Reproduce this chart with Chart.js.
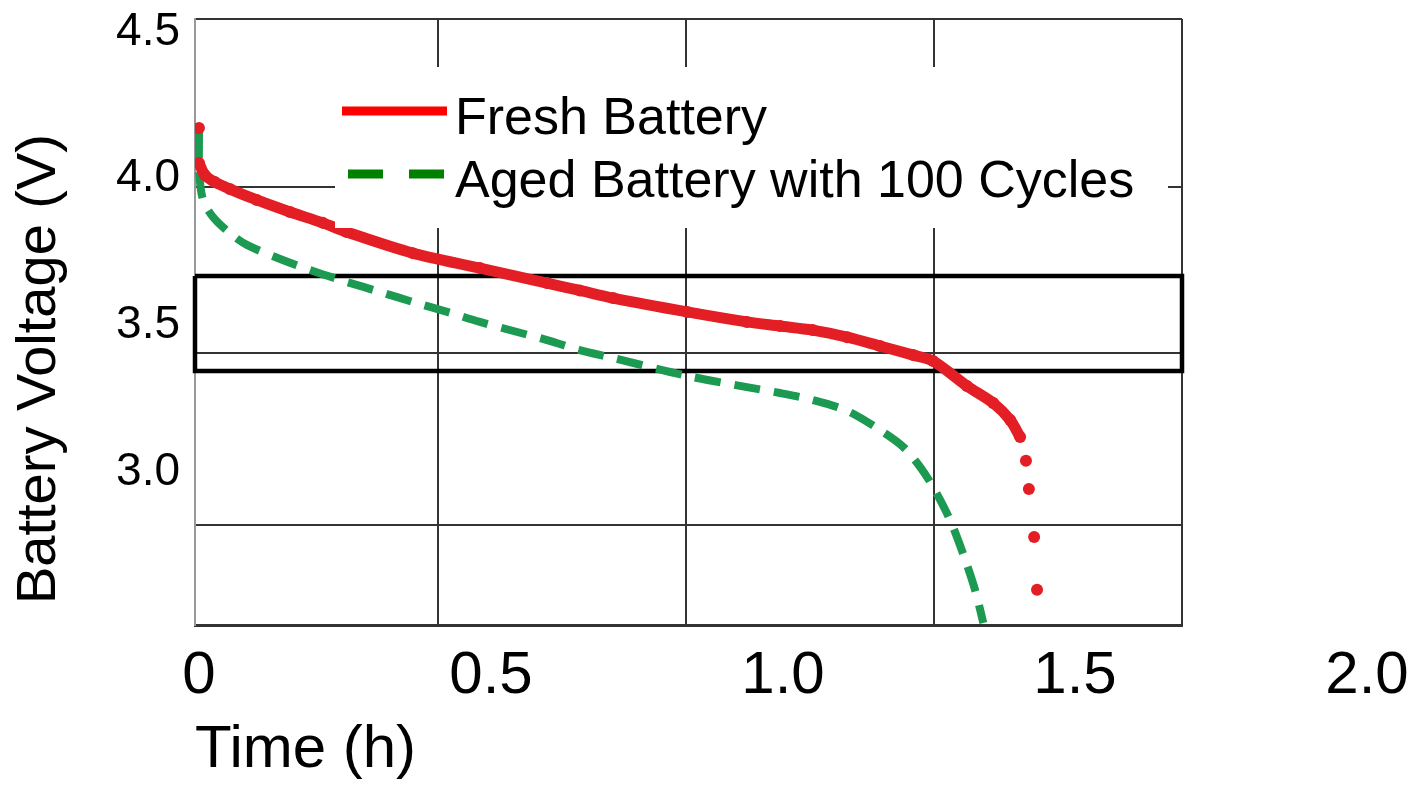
<!DOCTYPE html>
<html>
<head>
<meta charset="utf-8">
<script src="https://cdn.jsdelivr.net/npm/chart.js@4.4.1/dist/chart.umd.min.js"></script>
<style>
  html, body { margin: 0; padding: 0; background: #ffffff; }
</style>
</head>
<body>
<canvas id="voltageChart" width="1418" height="786"></canvas>
<script>
// Fresh battery (null = break between the separate dots)
const freshTime = [0, 0, 0, 0.010, 0.027, 0.053, 0.099, 0.156, 0.212, 0.253, 0.366, 0.481, 0.596, 0.652, 0.709,
                   0.836, 0.938, 0.995, 1.051, 1.110, 1.166, 1.223, 1.257, 1.315, 1.360, 1.389, 1.406,
                   1.406, 1.416, 1.416, 1.421, 1.421, 1.430, 1.430, 1.435];
const freshVolt = [4.173, null, 4.054, 4.013, 3.989, 3.965, 3.928, 3.887, 3.850, 3.819, 3.747, 3.696, 3.645, 3.620, 3.594,
                   3.547, 3.513, 3.499, 3.485, 3.461, 3.431, 3.400, 3.380, 3.295, 3.237, 3.179, 3.121,
                   null, 3.040, null, 2.944, null, 2.781, null, 2.601];

// Aged battery with 100 cycles
const agedTime = [0, 0.0005, 0.007, 0.024, 0.053, 0.082, 0.139, 0.195, 0.253, 0.310, 0.366, 0.425, 0.481, 0.596,
                  0.652, 0.709, 0.836, 0.938, 0.995, 1.051, 1.110, 1.166, 1.206, 1.235, 1.257, 1.286, 1.308, 1.329, 1.343];
const agedVolt = [4.159, 4.020, 3.928, 3.870, 3.815, 3.775, 3.727, 3.686, 3.649, 3.615, 3.581, 3.547, 3.513, 3.451,
                  3.417, 3.390, 3.329, 3.291, 3.271, 3.247, 3.210, 3.145, 3.087, 3.019, 2.951, 2.839, 2.726, 2.600, 2.488];

// Highlighted voltage band
const boxVolt = [3.669, 3.346];

// Axes
const xMin = -0.0068, xMax = 1.6832;
const yMin = 2.4813, yMax = 4.5439;
const xTickLabels = [0, 0.5, 1.0, 1.5, 2.0];
const yTickLabels = [3.0, 3.5, 4.0, 4.5];
const xGrid = [0.4092, 0.8339, 1.2586, xMax];
const yGrid = [2.822, 3.407, 3.972, yMax];

const FONT = '"Liberation Sans", Arial, sans-serif';
const has = (list, v) => list.some(d => Math.abs(d - v) < 1e-6);
const toPoints = (xs, ys) => xs.map((x, i) => ({ x: x, y: ys[i] }));

const overlayPlugin = {
    id: 'overlay',
    afterDatasetsDraw(chart) {
        // Legend with white background inside the plot
        const { ctx, chartArea: a } = chart;
        ctx.save();
        ctx.fillStyle = '#ffffff';
        ctx.fillRect(a.left + 140, a.top + 48, 833, 161);

        ctx.lineWidth = 9;
        ctx.strokeStyle = '#ff0000';
        ctx.beginPath();
        ctx.moveTo(a.left + 147, a.top + 92);
        ctx.lineTo(a.left + 252, a.top + 92);
        ctx.stroke();

        ctx.strokeStyle = '#008000';
        ctx.setLineDash([35, 26]);
        ctx.beginPath();
        ctx.moveTo(a.left + 153, a.top + 155);
        ctx.lineTo(a.left + 249, a.top + 155);
        ctx.stroke();
        ctx.setLineDash([]);

        ctx.fillStyle = '#000000';
        ctx.font = '52px ' + FONT;
        ctx.textAlign = 'left';
        ctx.textBaseline = 'alphabetic';
        ctx.fillText(chart.data.datasets[0].label, a.left + 260, a.top + 115);
        ctx.fillText(chart.data.datasets[1].label, a.left + 260, a.top + 178);
        ctx.restore();
    },
    afterDraw(chart) {
        const { ctx, chartArea: a } = chart;
        const xs = chart.scales.x;
        ctx.save();
        ctx.fillStyle = '#000000';
        // x tick labels (the last one sits past the plot edge)
        ctx.font = '60px ' + FONT;
        ctx.textAlign = 'center';
        ctx.textBaseline = 'middle';
        xTickLabels.forEach(v => {
            ctx.fillText(v === 0 ? '0' : v.toFixed(1), xs.getPixelForValue(v), a.bottom + 51);
        });
        // y axis title
        ctx.font = '56px ' + FONT;
        ctx.translate(40, 369);
        ctx.rotate(-Math.PI / 2);
        ctx.fillText('Battery Voltage (V)', 0, 0);
        ctx.restore();
    }
};

new Chart(document.getElementById('voltageChart').getContext('2d'), {
    type: 'line',
    data: {
        datasets: [
            {
                label: 'Fresh Battery',
                data: toPoints(freshTime, freshVolt),
                borderColor: '#e31e24',
                backgroundColor: '#e31e24',
                borderWidth: 11,
                pointRadius: 6,
                pointBorderWidth: 0,
                tension: 0.3,
                spanGaps: false
            },
            {
                label: 'Aged Battery with 100 Cycles',
                data: toPoints(agedTime, agedVolt),
                borderColor: '#1d9a52',
                borderWidth: 8,
                borderDash: [26, 14],
                pointRadius: 0,
                tension: 0.3
            },
            {
                label: 'band',
                data: toPoints([xMin, xMax, xMax, xMin, xMin],
                               [boxVolt[0], boxVolt[0], boxVolt[1], boxVolt[1], boxVolt[0]]),
                borderColor: '#000000',
                borderWidth: 4.5,
                borderJoinStyle: 'miter',
                pointRadius: 0,
                tension: 0,
                clip: false
            }
        ]
    },
    options: {
        responsive: false,
        animation: false,
        layout: { padding: { top: 19, right: 236, left: 0, bottom: 0 } },
        scales: {
            x: {
                type: 'linear',
                min: xMin,
                max: xMax,
                afterFit: scale => {
                    scale.height = 161;
                    scale.paddingLeft = 0;
                    scale.paddingRight = 0;
                },
                afterBuildTicks: scale => {
                    scale.ticks = [xMin].concat(xGrid).map(v => ({ value: v }));
                },
                ticks: { display: false, autoSkip: false },
                grid: {
                    drawTicks: false,
                    lineWidth: 2,
                    color: c => (c.tick && c.tick.value === xMin) ? 'rgba(0,0,0,0)' : '#333333'
                },
                border: { color: '#333333', width: 3 },
                title: {
                    display: true,
                    text: 'Time (h)',
                    align: 'start',
                    color: '#000000',
                    font: { family: FONT, size: 60 },
                    padding: { top: 0, bottom: 0 }
                }
            },
            y: {
                type: 'linear',
                min: yMin,
                max: yMax,
                afterFit: scale => {
                    scale.width = 195;
                    scale.paddingTop = 0;
                    scale.paddingBottom = 0;
                },
                afterBuildTicks: scale => {
                    scale.ticks = yGrid.concat(yTickLabels).sort((p, q) => p - q).map(v => ({ value: v }));
                },
                ticks: {
                    autoSkip: false,
                    padding: 15,
                    color: '#000000',
                    font: { family: FONT, size: 46 },
                    callback: v => has(yTickLabels, v) ? v.toFixed(1) : ''
                },
                grid: {
                    drawTicks: false,
                    lineWidth: 2,
                    color: c => (c.tick && has(yGrid, c.tick.value)) ? '#333333' : 'rgba(0,0,0,0)'
                },
                border: { color: '#999999', width: 2 }
            }
        },
        plugins: {
            legend: { display: false },
            tooltip: { enabled: false }
        }
    },
    plugins: [overlayPlugin]
});
</script>
</body>
</html>
